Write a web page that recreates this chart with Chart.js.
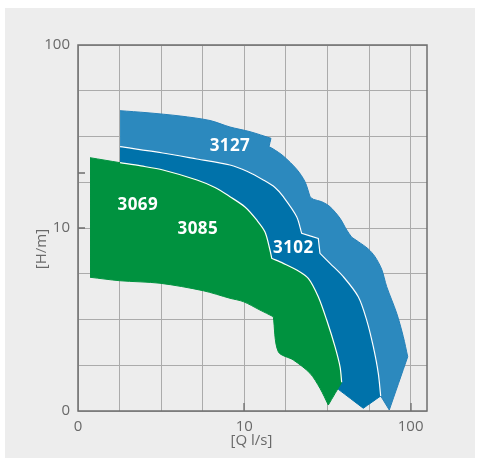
<!DOCTYPE html>
<html>
<head>
<meta charset="utf-8">
<script src="https://cdn.jsdelivr.net/npm/chart.js@4/dist/chart.umd.min.js"></script>
<style>
  html, body { margin: 0; padding: 0; background: #ffffff; }
  #panel { position: absolute; left: 5px; top: 8px; width: 470px; height: 450px; background: #ededed; }
  #wrap { position: absolute; left: 0; top: 0; width: 481px; height: 468px; }
</style>
</head>
<body>
<div id="panel"></div>
<div id="wrap"><canvas id="chart" width="481" height="468"></canvas></div>
<script>
// Axis grid values (log scale, quarter decades) and the labelled ticks
const gridQ = [1, 1.778, 3.162, 5.623, 10, 17.78, 31.62, 56.23, 100];
const gridH = [1, 1.778, 3.162, 5.623, 10, 17.78, 31.62, 56.23, 100];
const tickLabels = { 1: '0', 10: '10', 100: '100' };
const markQ = [10, 100];
const markH = [10, 20];

// Pump names shown on the ranges
const pumpNames = ['3127', '3102', '3069', '3085'];

// 3127 operating range outline: flow Q [l/s] and head H [m]
const q3127 = [1.79, 2.60, 4.11, 6.22, 8.20, 10.82, 14.47, 14.08, 14.94, 17.16, 20.66, 23.17,
  24.84, 26.0, 29.21, 32.76, 37.63, 41.29, 44.24, 48.47, 55.66, 61.08, 67.0, 71.83, 82.5,
  90.4, 96.1, 74.45, 66.1, 57.0, 32.76, 21.62, 10.82, 2.71, 1.79];
const h3127 = [43.75, 42.66, 40.93, 38.67, 35.64, 33.6, 30.92, 27.82, 27.02, 24.74, 20.93, 17.91,
  14.83, 14.35, 13.92, 13.07, 11.30, 9.75, 8.90, 8.42, 7.68, 6.97, 5.95, 4.78, 3.42,
  2.547, 1.98, 1.013, 1.208, 1.27, 1.477, 2.77, 4.58, 6.69, 7.58];
const kinks3127 = [6, 7, 12, 18, 26, 27, 28];

// 3102 operating range outline
const q3102 = [1.79, 3.24, 5.19, 8.20, 10.45, 13.01, 15.30, 17.16, 20.66, 22.14, 27.86, 28.52,
  32.76, 39.38, 48.47, 54.45, 59.67, 63.95, 66.1, 51.94, 36.75, 32.76, 21.62, 10.82, 2.71, 1.79];
const h3102 = [27.82, 25.69, 23.83, 22.1, 20.36, 18.3, 16.65, 14.83, 11.53, 9.35, 8.78, 7.27,
  6.41, 5.42, 4.21, 3.14, 2.246, 1.607, 1.208, 1.035, 1.314, 1.477, 2.77, 4.58, 6.69, 7.58];
const kinks3102 = [9, 10, 11, 18, 19, 20];

// 3069 / 3085 combined operating range outline
const q3085 = [1.181, 1.79, 2.392, 3.244, 5.194, 6.665, 8.204, 10.10, 11.87, 13.32, 14.27, 14.62,
  17.16, 20.66, 24.26, 27.86, 31.3, 35.11, 37.63, 38.52, 32.0, 28.52, 24.84, 19.71, 16.01,
  14.94, 12.43, 9.86, 8.204, 5.67, 3.112, 1.79, 1.181];
const h3085 = [24.22, 22.75, 21.83, 20.75, 18.3, 16.65, 14.83, 13.02, 11.06, 9.51, 7.58, 6.83,
  6.41, 5.90, 5.31, 4.21, 3.14, 2.246, 1.746, 1.435, 1.078, 1.33, 1.607, 1.90, 2.109,
  3.276, 3.56, 3.96, 4.13, 4.54, 4.99, 5.15, 5.38];
const kinks3085 = [11, 19, 20, 25, 26];

// Where each pump name sits, in Q/H units
const nameQ = [8.2, 19.7, 2.29, 5.25];
const nameH = [28.3, 7.88, 13.5, 10.0];

const GREEN = '#00923f';
const DARK_BLUE = '#0072aa';
const LIGHT_BLUE = '#2c89be';
const TEXT = '#696969';
const FONT = '"Open Sans", "Noto Sans", sans-serif';
const TENSION = 0.3;

// Points from index `from` to `to`; a vertex listed in `kinks` is repeated so the
// smoothed outline keeps a sharp corner there.
function outlinePts(qs, hs, kinks, from = 0, to = qs.length - 1) {
  const pts = [];
  for (let i = from; i <= to; i++) {
    pts.push({ x: qs[i], y: hs[i] });
    if (kinks.includes(i) && i !== from && i !== to) pts.push({ x: qs[i], y: hs[i] });
  }
  return pts;
}

const area = (pts, fillColor, edgeColor, order) => ({
  data: pts,
  showLine: true,
  fill: 'shape',
  backgroundColor: fillColor,
  borderColor: edgeColor,
  borderWidth: 1,
  pointRadius: 0,
  tension: TENSION,
  order
});

const edge = (pts, order) => ({
  data: pts,
  showLine: true,
  fill: false,
  borderColor: '#ffffff',
  borderWidth: 1.2,
  pointRadius: 0,
  tension: TENSION,
  order
});

const frameAndText = {
  id: 'frameAndText',
  afterDatasetsDraw(chart) {
    const { ctx, chartArea: a, scales: { x, y } } = chart;
    ctx.save();
    ctx.strokeStyle = '#6e6e6e';
    ctx.lineWidth = 1.5;
    ctx.strokeRect(a.left, a.top, a.right - a.left, a.bottom - a.top);
    ctx.lineWidth = 1.3;
    ctx.beginPath();
    markQ.forEach(v => {
      const px = Math.round(x.getPixelForValue(v));
      ctx.moveTo(px, a.bottom); ctx.lineTo(px, a.bottom - 8);
    });
    markH.forEach(v => {
      const py = Math.round(y.getPixelForValue(v));
      ctx.moveTo(a.left, py); ctx.lineTo(a.left + 7, py);
    });
    ctx.stroke();

    // pump names
    const size = 17;
    ctx.font = `700 ${size}px ${FONT}`;
    ctx.fillStyle = '#ffffff';
    ctx.textAlign = 'center';
    ctx.textBaseline = 'alphabetic';
    if ('letterSpacing' in ctx) ctx.letterSpacing = '0.4px';
    pumpNames.forEach((name, i) => {
      const px = x.getPixelForValue(nameQ[i]);
      const py = y.getPixelForValue(nameH[i]);
      ctx.fillText(name, px, py + size * 0.357);
    });
    if ('letterSpacing' in ctx) ctx.letterSpacing = '0px';

    // axis titles
    ctx.font = `400 15px ${FONT}`;
    ctx.fillStyle = TEXT;
    ctx.fillText('[Q l/s]', (a.left + a.right) / 2 - 1, a.bottom + 34);
    ctx.translate(a.left - 37, a.top + 204);
    ctx.rotate(-Math.PI / 2);
    ctx.fillText('[H/m]', 0, 5);
    ctx.restore();
  }
};

const tickFont = { family: FONT, size: 15, weight: '400' };

new Chart(document.getElementById('chart'), {
  type: 'scatter',
  data: {
    datasets: [
      edge(outlinePts(q3085, h3085, kinks3085, 1, 19), 1),
      edge(outlinePts(q3102, h3102, kinks3102, 0, 18), 2),
      area(outlinePts(q3085, h3085, kinks3085), GREEN, GREEN, 3),
      area(outlinePts(q3102, h3102, kinks3102), DARK_BLUE, DARK_BLUE, 4),
      area(outlinePts(q3127, h3127, kinks3127), LIGHT_BLUE, '#2580b8', 5)
    ]
  },
  options: {
    responsive: false,
    animation: false,
    devicePixelRatio: 1,
    layout: { padding: { top: 45, right: 54, bottom: 0, left: 0 } },
    plugins: { legend: { display: false }, tooltip: { enabled: false }, title: { display: false } },
    scales: {
      x: {
        type: 'logarithmic',
        min: 1,
        max: 125.5,
        afterBuildTicks: s => { s.ticks = gridQ.map(v => ({ value: v })); },
        afterFit: s => { s.height = 57; },
        ticks: {
          callback: v => tickLabels[v] ?? '',
          font: tickFont, color: TEXT, padding: 7,
          autoSkip: false, maxRotation: 0, minRotation: 0
        },
        grid: { color: '#ababab', lineWidth: 1, drawTicks: false },
        border: { display: false }
      },
      y: {
        type: 'logarithmic',
        min: 1,
        max: 100,
        afterBuildTicks: s => { s.ticks = gridH.map(v => ({ value: v })); },
        afterFit: s => { s.width = 78; },
        ticks: {
          callback: v => tickLabels[v] ?? '',
          font: tickFont, color: TEXT, padding: 8,
          autoSkip: false
        },
        grid: { color: '#ababab', lineWidth: 1, drawTicks: false },
        border: { display: false }
      }
    }
  },
  plugins: [frameAndText]
});
</script>
</body>
</html>
